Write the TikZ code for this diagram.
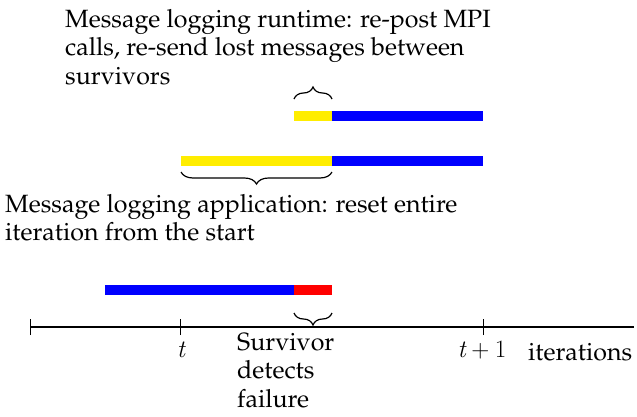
\RequirePackage{fix-cm}
\documentclass[tikz,border=0pt]{standalone}
\usepackage[T1]{fontenc}
\renewcommand{\rmdefault}{ppl}
\usetikzlibrary{decorations.pathreplacing}
\newcommand{\cmit}[1]{{\usefont{OT1}{cmr}{m}{it}#1}}
\newcommand{\cmup}[1]{{\usefont{OT1}{cmr}{m}{n}#1}}
\tikzset{
  bar/.style={line width=10pt},
  brc/.style={decorate, decoration={brace, amplitude=12pt}, line width=1.2pt},
  lbl/.style={inner sep=0pt, anchor=base west, font=\fontsize{25}{28.5}\selectfont},
  axlbl/.style={inner sep=0pt, anchor=base, font=\fontsize{25}{28.5}\selectfont},
  tck/.style={line width=1pt},
  axis/.style={line width=1.3pt}
}
\definecolor{yel}{RGB}{255,237,0}
\definecolor{blu}{RGB}{0,0,255}
\definecolor{rd}{RGB}{255,0,0}
\begin{document}
\begin{tikzpicture}[x=1pt,y=-1pt]
\useasboundingbox (0,0) rectangle (637,416);
% axis
\coordinate (a0) at (30,327);
\coordinate (a1) at (634,327);
\coordinate (tt) at (180,327);
\coordinate (tt1) at (483,327);
\draw[axis] (a0) -- (a1);
\draw[tck] ([yshift=-8pt]a0) -- ([yshift=8pt]a0);
\draw[tck] ([yshift=-8pt]tt) -- ([yshift=8pt]tt);
\draw[tck] ([yshift=-8pt]tt1) -- ([yshift=8pt]tt1);
\node[axlbl] (lt) at (181,357) {\cmit{t}};
\node[axlbl] (lt1) at (482,357) {\cmit{t}\hspace{5.5pt}\cmup{+}\hspace{5.5pt}\cmup{1}};
\node[lbl] (lit) at (528,360) {iterations};
% bottom bar
\coordinate (b0) at (105,289.5);
\coordinate (b1) at (294,289.5);
\coordinate (b2) at (332,289.5);
\draw[bar,blu] (b0) -- (b1);
\draw[bar,rd] (b1) -- (b2);
\coordinate (bb0) at (332,313);
\coordinate (bb1) at (294,313);
\draw[brc] (bb0) -- (bb1);
\node[lbl] (surv) at (237,350) {\parbox[t]{140pt}{\raggedright Survivor\\detects\\failure}};
% middle bar
\coordinate (m0) at (181,160.5);
\coordinate (m1) at (332,160.5);
\coordinate (m2) at (483,160.5);
\draw[bar,yel] (m0) -- (m1);
\draw[bar,blu] (m1) -- (m2);
\coordinate (mb0) at (332,172);
\coordinate (mb1) at (181,172);
\draw[brc] (mb0) -- (mb1);
\node[lbl] (app) at (5,212) {\parbox[t]{550pt}{\raggedright Message logging application: reset entire\\iteration from the start}};
% top bar
\coordinate (t0) at (294,115.5);
\coordinate (t1) at (332,115.5);
\coordinate (t2) at (483,115.5);
\draw[bar,yel] (t0) -- (t1);
\draw[bar,blu] (t1) -- (t2);
\coordinate (tb0) at (294,99);
\coordinate (tb1) at (332,99);
\draw[brc] (tb0) -- (tb1);
\node[lbl] (rt) at (65,27) {\parbox[t]{550pt}{\raggedright Message logging runtime: re-post MPI\\calls, re-send lost messages between\\survivors}};
\end{tikzpicture}
\end{document}
